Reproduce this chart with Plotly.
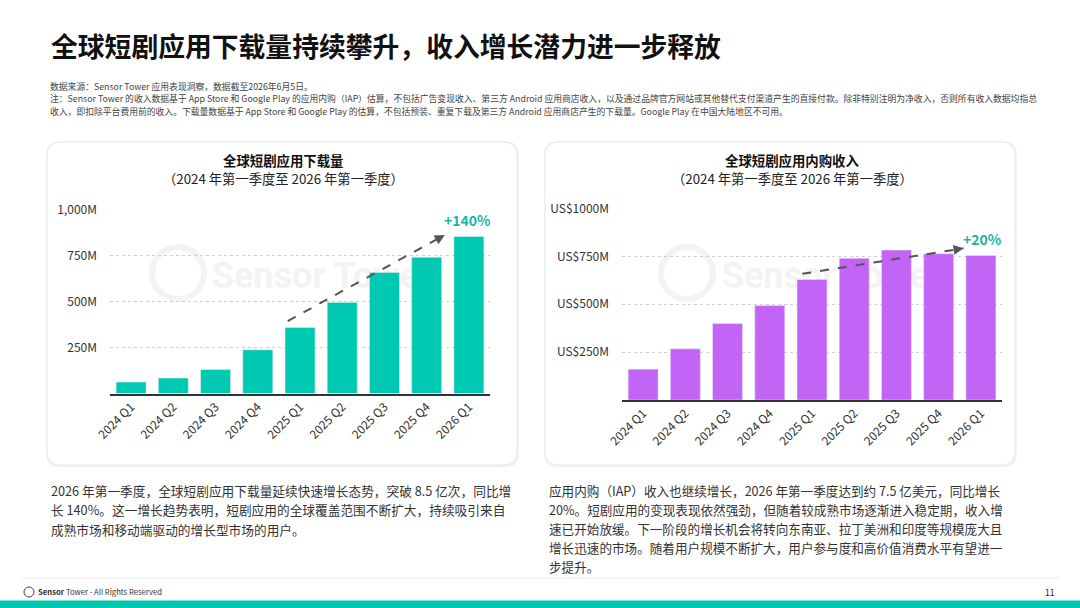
import plotly.graph_objects as go

W, H = 1080, 608

quarters = ["2024 Q1", "2024 Q2", "2024 Q3", "2024 Q4", "2025 Q1",
            "2025 Q2", "2025 Q3", "2025 Q4", "2026 Q1"]
downloads_m = [62, 84, 131, 238, 360, 496, 660, 742, 856]
iap_revenue_m = [161, 267, 399, 493, 629, 740, 783, 764, 755]

tick_vals = [250, 500, 750, 1000]
download_ticktext = ["250M", "500M", "750M", "1,000M"]
revenue_ticktext = ["US$250M", "US$500M", "US$750M", "US$1000M"]

# trend arrows, x in bar-index units, y in millions
download_trend_x = [3.71, 7.43]
download_trend_y = [395, 864]
revenue_trend_x = [3.77, 7.59]
revenue_trend_y = [659, 792]
download_growth = "+140%"
revenue_growth = "+20%"

page_title = "全球短剧应用下载量持续攀升，收入增长潜力进一步释放"
notes = [
    "数据来源：Sensor Tower 应用表现洞察，数据截至2026年6月5日。",
    "注：Sensor Tower 的收入数据基于 App Store 和 Google Play 的应用内购（IAP）估算，不包括广告变现收入、第三方 Android 应用商店收入，以及通过品牌官方网站或其他替代支付渠道产生的直接付款。除非特别注明为净收入，否则所有收入数据均指总",
    "收入，即扣除平台费用前的收入。下载量数据基于 App Store 和 Google Play 的估算，不包括预装、重复下载及第三方 Android 应用商店产生的下载量。Google Play 在中国大陆地区不可用。",
]
left_title = "全球短剧应用下载量"
right_title = "全球短剧应用内购收入"
sub_title = "（2024 年第一季度至 2026 年第一季度）"
left_body = [
    "2026 年第一季度，全球短剧应用下载量延续快速增长态势，突破 8.5 亿次，同比增",
    "长 140%。这一增长趋势表明，短剧应用的全球覆盖范围不断扩大，持续吸引来自",
    "成熟市场和移动端驱动的增长型市场的用户。",
]
right_body = [
    "应用内购（IAP）收入也继续增长，2026 年第一季度达到约 7.5 亿美元，同比增长",
    "20%。短剧应用的变现表现依然强劲，但随着较成熟市场逐渐进入稳定期，收入增",
    "速已开始放缓。下一阶段的增长机会将转向东南亚、拉丁美洲和印度等规模庞大且",
    "增长迅速的市场。随着用户规模不断扩大，用户参与度和高价值消费水平有望进一",
    "步提升。",
]

FONT = "Noto Sans CJK SC"
TEAL = "#00C9B2"
TEAL_TEXT = "#1AB5A0"
PURPLE = "#C264F6"


def fx(x):
    return x / W


def fy(y):
    return 1 - y / H


def rounded_rect(x0, y0, x1, y1, r):
    X0, X1 = fx(x0), fx(x1)
    Yb, Yt = fy(y1), fy(y0)
    rx, ry = r / W, r / H
    return (f"M {X0+rx},{Yb} L {X1-rx},{Yb} Q {X1},{Yb} {X1},{Yb+ry} "
            f"L {X1},{Yt-ry} Q {X1},{Yt} {X1-rx},{Yt} L {X0+rx},{Yt} "
            f"Q {X0},{Yt} {X0},{Yt-ry} L {X0},{Yb+ry} Q {X0},{Yb} {X0+rx},{Yb} Z")


fig = go.Figure()
idx = list(range(len(quarters)))

fig.add_trace(go.Bar(x=idx, y=downloads_m, marker_color=TEAL, width=0.71,
                     xaxis="x", yaxis="y", hoverinfo="skip"))
fig.add_trace(go.Bar(x=idx, y=iap_revenue_m, marker_color=PURPLE, width=0.71,
                     xaxis="x2", yaxis="y2", hoverinfo="skip"))

# dashed trend lines
for tx, ty, xa, ya in [(download_trend_x, download_trend_y, "x", "y"),
                       (revenue_trend_x, revenue_trend_y, "x2", "y2")]:
    fig.add_trace(go.Scatter(x=tx, y=ty, mode="lines", xaxis=xa, yaxis=ya,
                             line=dict(color="#555555", width=2, dash="dash"),
                             hoverinfo="skip"))

annotations = []
for tx, ty, xa, ya in [(download_trend_x, download_trend_y, "x", "y"),
                       (revenue_trend_x, revenue_trend_y, "x2", "y2")]:
    annotations.append(dict(
        x=tx[1], y=ty[1], xref=xa, yref=ya,
        ax=tx[1] - 0.06 * (tx[1] - tx[0]), ay=ty[1] - 0.06 * (ty[1] - ty[0]),
        axref=xa, ayref=ya, showarrow=True, arrowhead=2, arrowsize=1,
        arrowwidth=2, arrowcolor="#555555", text=""))

annotations.append(dict(x=7.96, y=945, xref="x", yref="y", text=download_growth,
                        showarrow=False, font=dict(family=FONT, size=14, color=TEAL_TEXT, weight=700)))
annotations.append(dict(x=8.03, y=843, xref="x2", yref="y2", text=revenue_growth,
                        showarrow=False, font=dict(family=FONT, size=14, color=TEAL_TEXT, weight=700)))


def text_at(x, y, s, size, color="#222222", anchor="left", weight=400):
    annotations.append(dict(x=fx(x), y=fy(y), xref="paper", yref="paper", text=s,
                            showarrow=False, xanchor=anchor, yanchor="middle",
                            font=dict(family=FONT, size=size, color=color, weight=weight)))


text_at(49, 45, page_title, 26.8, "#111111", weight=700)
for s, y in zip(notes, [86, 99, 111.5]):
    text_at(48, y, s, 8.8, "#444444")

text_at(283, 160, left_title, 13.4, "#111111", "center", 700)
text_at(283, 179, sub_title, 13.3, "#222222", "center")
text_at(792, 160, right_title, 13.4, "#111111", "center", 700)
text_at(792, 179, sub_title, 13.3, "#222222", "center")

for i, s in enumerate(left_body):
    text_at(49, 490 + i * 19.5, s, 12.7, "#333333")
for i, s in enumerate(right_body):
    text_at(547, 490 + i * 19.1, s, 12.6, "#333333")

text_at(36, 591.5, "<b>Sensor</b> Tower - All Rights Reserved", 7.7, "#333333")
text_at(1057, 591.5, "11", 8.5, "#222222", "right")

shapes = []
for x0, x1 in [(47, 517), (545, 1015)]:
    shapes.append(dict(type="path", path=rounded_rect(x0 - 1, 141, x1 + 2, 467, 14), xref="paper", yref="paper",
                       fillcolor="#f1f1f1", line=dict(width=0), layer="below"))
    shapes.append(dict(type="path", path=rounded_rect(x0, 142, x1, 465, 14), xref="paper", yref="paper",
                       fillcolor="white", line=dict(color="#e9e9e9", width=1), layer="below"))

# faint watermarks
for cx, tx in [(178, 322), (687, 832)]:
    shapes.append(dict(type="circle", xref="paper", yref="paper",
                       x0=fx(cx - 26), x1=fx(cx + 26), y0=fy(273 + 26), y1=fy(273 - 26),
                       line=dict(color="#f3f3f3", width=6), layer="below"))
    shapes.append(dict(type="rect", xref="paper", yref="paper",
                       x0=fx(tx - 110), x1=fx(tx + 110), y0=fy(295), y1=fy(251),
                       line=dict(width=0), layer="below",
                       label=dict(text="Sensor Tower", font=dict(family="Roboto", size=36, color="#f3f3f3", weight=700))))

shapes.append(dict(type="line", xref="paper", yref="paper", x0=fx(22), x1=fx(1060), y0=fy(578), y1=fy(578),
                   line=dict(color="#ececec", width=1)))
shapes.append(dict(type="circle", xref="paper", yref="paper", x0=fx(24), x1=fx(34), y0=fy(597), y1=fy(587),
                   line=dict(color="#444444", width=1)))
shapes.append(dict(type="rect", xref="paper", yref="paper", x0=0, x1=1, y0=0, y1=fy(600.5),
                   fillcolor=TEAL, line=dict(width=0)))

axis_common = dict(tickfont=dict(family=FONT, size=12, color="#333333"), automargin=False)
xcommon = dict(tickmode="array", tickvals=idx, ticktext=quarters, tickangle=-45, range=[-0.5, 8.5],
               showline=True, linecolor="#333333", linewidth=1.5, showgrid=False, zeroline=False,
               fixedrange=True, **axis_common)
ycommon = dict(range=[0, 1000], tickmode="array", tickvals=tick_vals, showgrid=True,
               gridcolor="#cfcfcf", griddash="dot", gridwidth=1, zeroline=False, showline=False,
               ticks="", ticklabelstandoff=12, fixedrange=True, **axis_common)

fig.update_layout(
    width=W, height=H, margin=dict(l=0, r=0, t=0, b=0, pad=0, autoexpand=False),
    paper_bgcolor="white", plot_bgcolor="rgba(0,0,0,0)",
    showlegend=False, bargap=0.29,
    xaxis=dict(domain=[fx(110), fx(490)], anchor="y", **xcommon),
    yaxis=dict(domain=[fy(393.5), fy(210)], anchor="x", ticktext=download_ticktext, **ycommon),
    xaxis2=dict(domain=[fx(622), fx(1002)], anchor="y2", **xcommon),
    yaxis2=dict(domain=[fy(400), fy(208.5)], anchor="x2", ticktext=revenue_ticktext, **ycommon),
    annotations=annotations, shapes=shapes,
)

fig.write_html("out.html", config={"displayModeBar": False},
               post_script="document.body.style.margin='0';document.body.style.overflow='hidden';")
